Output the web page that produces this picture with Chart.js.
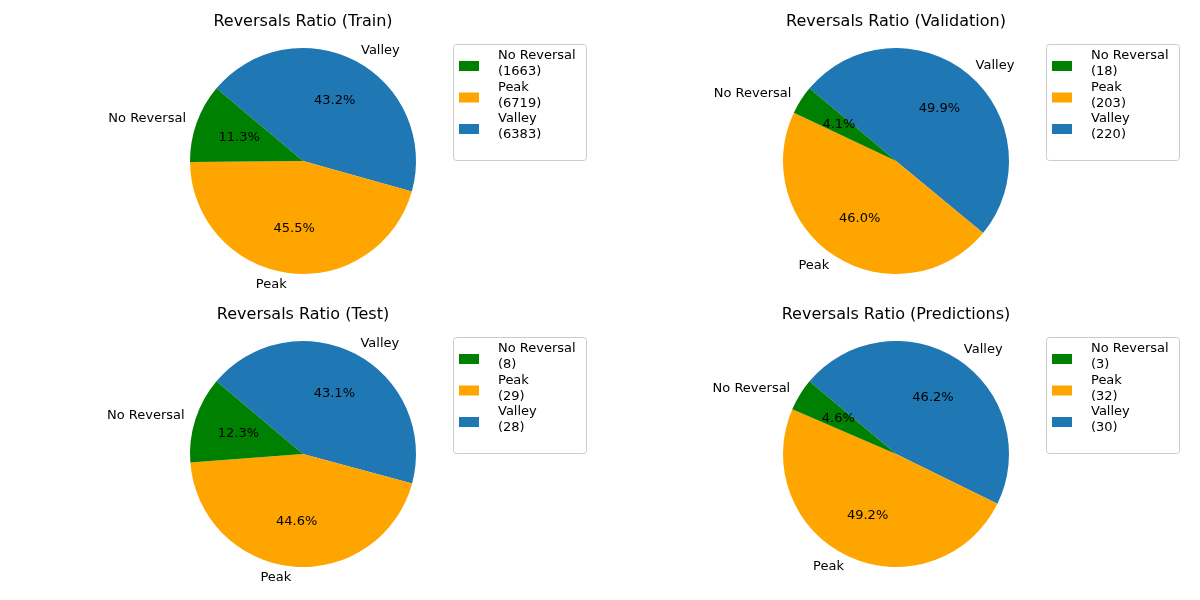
<!DOCTYPE html>
<html>
<head>
<meta charset="utf-8">
<script src="https://cdn.jsdelivr.net/npm/chart.js@4.4.0/dist/chart.umd.min.js"></script>
<style>
  body { margin: 0; background: #fff; }
  #grid { position: relative; width: 1200px; height: 600px; }
  .panel { position: absolute; width: 600px; height: 300px; }
</style>
</head>
<body>
<div id="grid">
  <div class="panel" style="left:0;top:0"><canvas id="c0"></canvas></div>
  <div class="panel" style="left:600px;top:0"><canvas id="c1"></canvas></div>
  <div class="panel" style="left:0;top:300px"><canvas id="c2"></canvas></div>
  <div class="panel" style="left:600px;top:300px"><canvas id="c3"></canvas></div>
</div>
<script>
// categories in matplotlib order (counter-clockwise from 140 deg)
const categories = ['No Reversal', 'Peak', 'Valley'];
const colors = ['#008000', '#FFA500', '#1f77b4'];
const titles = ['Reversals Ratio (Train)', 'Reversals Ratio (Validation)', 'Reversals Ratio (Test)', 'Reversals Ratio (Predictions)'];
const trainCounts = [1663, 6719, 6383];
const validationCounts = [18, 203, 220];
const testCounts = [8, 29, 28];
const predictionCounts = [3, 32, 30];
const allCounts = [trainCounts, validationCounts, testCounts, predictionCounts];

const FONT = '"DejaVu Sans", sans-serif';

// padding so that the pie sits where matplotlib put it
const paddings = [
  { left: 190, right: 184, top: 48, bottom: 26 },
  { left: 183, right: 191, top: 48, bottom: 26 },
  { left: 190, right: 184, top: 41, bottom: 33 },
  { left: 183, right: 191, top: 41, bottom: 33 }
];

// chart.js draws clockwise, so reverse to keep matplotlib's counter-clockwise layout
const rev = a => a.slice().reverse();

function makeDecor(idx, counts) {
  return {
    id: 'decor' + idx,
    afterDraw(chart) {
      const ctx = chart.ctx;
      const meta = chart.getDatasetMeta(0);
      const total = counts.reduce((a, b) => a + b, 0);
      const revLabels = rev(categories);
      const revCounts = rev(counts);
      let cx = 0, cy = 0, r = 0;
      ctx.save();
      ctx.fillStyle = '#000';
      ctx.font = '13px ' + FONT;
      meta.data.forEach((arc, i) => {
        cx = arc.x; cy = arc.y; r = arc.outerRadius;
        const mid = (arc.startAngle + arc.endAngle) / 2;
        const ux = Math.cos(mid), uy = Math.sin(mid);
        // percentage at 0.6 r
        ctx.textAlign = 'center';
        ctx.textBaseline = 'middle';
        ctx.fillText((revCounts[i] / total * 100).toFixed(1) + '%', cx + ux * r * 0.6, cy + uy * r * 0.6);
        // label at 1.1 r
        ctx.textAlign = ux > 0 ? 'left' : 'right';
        ctx.fillText(revLabels[i], cx + ux * r * 1.1, cy + uy * r * 1.1);
      });
      // title
      ctx.textAlign = 'center';
      ctx.textBaseline = 'middle';
      ctx.font = '16px ' + FONT;
      ctx.fillText(titles[idx], cx, cy - r - 26);
      // legend box
      const lx = cx + 150, ly = cy - 117, lw = 133, lh = 116;
      ctx.beginPath();
      ctx.roundRect(lx + 0.5, ly + 0.5, lw, lh, 3);
      ctx.fillStyle = 'rgba(255,255,255,0.8)';
      ctx.fill();
      ctx.strokeStyle = '#cccccc';
      ctx.lineWidth = 1;
      ctx.stroke();
      ctx.font = '13px ' + FONT;
      ctx.textAlign = 'left';
      categories.forEach((c, i) => {
        const y0 = ly + 12 + i * 31.5;
        ctx.fillStyle = colors[i];
        ctx.fillRect(lx + 6, y0 + 5, 20, 10);
        ctx.fillStyle = '#000';
        ctx.fillText(c, lx + 45, y0);
        ctx.fillText('(' + counts[i] + ')', lx + 45, y0 + 16);
      });
      ctx.restore();
    }
  };
}

allCounts.forEach((counts, idx) => {
  new Chart(document.getElementById('c' + idx), {
    type: 'pie',
    data: {
      labels: rev(categories),
      datasets: [{
        data: rev(counts),
        backgroundColor: rev(colors),
        borderWidth: 0
      }]
    },
    options: {
      responsive: true,
      maintainAspectRatio: false,
      animation: false,
      rotation: -50,
      layout: { padding: paddings[idx] },
      plugins: { legend: { display: false }, tooltip: { enabled: false } }
    },
    plugins: [makeDecor(idx, counts)]
  });
});
</script>
</body>
</html>
